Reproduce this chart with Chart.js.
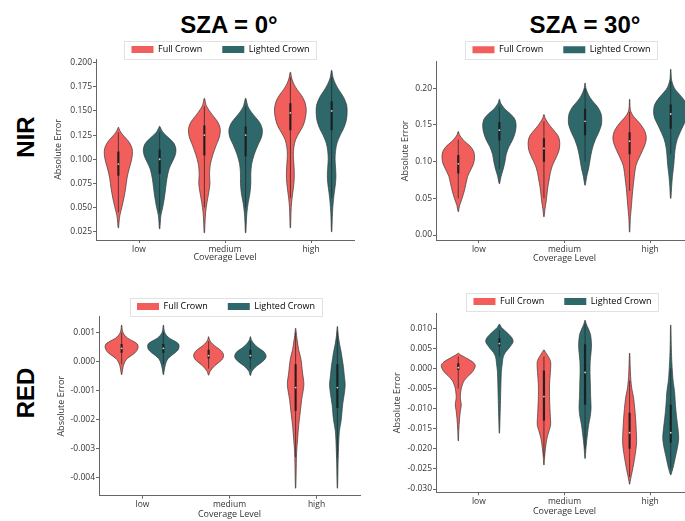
<!DOCTYPE html>
<html><head><meta charset="utf-8">
<script src="https://cdn.jsdelivr.net/npm/chart.js@4/dist/chart.umd.min.js"></script>
<style>
html,body{margin:0;padding:0;background:#fff;}
body{width:685px;height:521px;position:relative;overflow:hidden;}
.lab{position:absolute;font-family:'Liberation Sans',Arial,sans-serif;font-weight:bold;font-size:24px;color:#000;white-space:nowrap;line-height:1;transform:translate(-50%,-50%);}
.rot{transform:translate(-50%,-50%) rotate(-90deg);}
canvas{position:absolute;}
</style></head><body>
<div class="lab" style="left:229px;top:25px">SZA = 0°</div>
<div class="lab" style="left:585px;top:25px">SZA = 30°</div>
<div class="lab rot" style="left:26px;top:137px">NIR</div>
<div class="lab rot" style="left:26px;top:393px">RED</div>
<canvas id="c0"></canvas><canvas id="c1"></canvas><canvas id="c2"></canvas><canvas id="c3"></canvas>
<script>
// ---------- data ----------
const categories = ['low', 'medium', 'high'];
const seriesNames = ['Full Crown', 'Lighted Crown'];
const seriesColors = ['#f25e5b', '#2e686b'];

const nir0Ticks = [0.025, 0.050, 0.075, 0.100, 0.125, 0.150, 0.175, 0.200];
const nir30Ticks = [0.00, 0.05, 0.10, 0.15, 0.20];
const red0Ticks = [0.001, 0.000, -0.001, -0.002, -0.003, -0.004];
const red30Ticks = [0.010, 0.005, 0.000, -0.005, -0.010, -0.015, -0.020, -0.025, -0.030];

// violin density profiles: [value, half-width]
const nir0FullLow = [[0.029,0.003],[0.035,0.008],[0.042,0.018],[0.05,0.04],[0.06,0.065],[0.07,0.085],[0.08,0.1],[0.09,0.125],[0.098,0.15],[0.105,0.163],[0.111,0.16],[0.117,0.13],[0.122,0.085],[0.126,0.045],[0.13,0.015],[0.133,0.003]];
const nir0FullMed = [[0.024,0.003],[0.035,0.008],[0.045,0.015],[0.055,0.03],[0.065,0.05],[0.075,0.065],[0.085,0.06],[0.095,0.07],[0.105,0.1],[0.115,0.14],[0.123,0.175],[0.131,0.185],[0.138,0.16],[0.144,0.11],[0.15,0.06],[0.156,0.02],[0.163,0.003]];
const nir0FullHigh = [[0.029,0.003],[0.04,0.006],[0.05,0.01],[0.06,0.02],[0.07,0.035],[0.08,0.045],[0.088,0.045],[0.096,0.04],[0.104,0.035],[0.112,0.04],[0.12,0.06],[0.127,0.1],[0.135,0.15],[0.143,0.175],[0.151,0.185],[0.159,0.17],[0.166,0.13],[0.172,0.08],[0.178,0.04],[0.184,0.015],[0.19,0.003]];
const nir0LitLow = [[0.028,0.003],[0.035,0.008],[0.042,0.015],[0.05,0.035],[0.06,0.055],[0.07,0.07],[0.08,0.085],[0.09,0.11],[0.097,0.145],[0.104,0.18],[0.11,0.19],[0.116,0.17],[0.121,0.12],[0.125,0.07],[0.129,0.03],[0.134,0.003]];
const nir0LitMed = [[0.024,0.003],[0.035,0.008],[0.045,0.015],[0.055,0.03],[0.065,0.05],[0.075,0.06],[0.085,0.06],[0.095,0.07],[0.105,0.1],[0.115,0.145],[0.123,0.185],[0.13,0.195],[0.137,0.17],[0.143,0.12],[0.149,0.065],[0.155,0.025],[0.163,0.003]];
const nir0LitHigh = [[0.025,0.003],[0.035,0.006],[0.045,0.01],[0.055,0.018],[0.065,0.03],[0.075,0.045],[0.083,0.05],[0.092,0.045],[0.1,0.04],[0.108,0.045],[0.116,0.06],[0.124,0.095],[0.132,0.14],[0.14,0.17],[0.148,0.18],[0.156,0.175],[0.164,0.14],[0.171,0.09],[0.178,0.045],[0.185,0.015],[0.192,0.003]];

const nir30FullLow = [[0.032,0.003],[0.04,0.015],[0.05,0.045],[0.06,0.07],[0.07,0.09],[0.08,0.11],[0.09,0.15],[0.098,0.18],[0.106,0.19],[0.114,0.18],[0.121,0.14],[0.127,0.08],[0.133,0.035],[0.137,0.012],[0.141,0.003]];
const nir30FullMed = [[0.025,0.003],[0.035,0.012],[0.045,0.025],[0.055,0.035],[0.065,0.045],[0.075,0.06],[0.085,0.075],[0.095,0.1],[0.105,0.14],[0.115,0.175],[0.125,0.185],[0.134,0.17],[0.142,0.12],[0.149,0.07],[0.155,0.035],[0.16,0.012],[0.164,0.003]];
const nir30FullHigh = [[0.004,0.002],[0.015,0.006],[0.025,0.01],[0.035,0.018],[0.045,0.025],[0.055,0.032],[0.065,0.04],[0.075,0.05],[0.085,0.06],[0.095,0.075],[0.105,0.11],[0.115,0.15],[0.125,0.185],[0.133,0.195],[0.141,0.18],[0.149,0.14],[0.156,0.09],[0.162,0.045],[0.168,0.015],[0.175,0.005],[0.185,0.002]];
const nir30LitLow = [[0.07,0.003],[0.08,0.02],[0.09,0.045],[0.1,0.065],[0.11,0.08],[0.12,0.11],[0.13,0.155],[0.14,0.185],[0.15,0.195],[0.158,0.18],[0.165,0.13],[0.171,0.07],[0.177,0.03],[0.181,0.01],[0.185,0.003]];
const nir30LitMed = [[0.068,0.003],[0.08,0.02],[0.09,0.04],[0.1,0.055],[0.11,0.07],[0.12,0.09],[0.13,0.12],[0.14,0.16],[0.15,0.19],[0.158,0.195],[0.166,0.185],[0.174,0.15],[0.181,0.1],[0.188,0.055],[0.195,0.025],[0.201,0.008],[0.207,0.002]];
const nir30LitHigh = [[0.05,0.003],[0.065,0.01],[0.08,0.02],[0.095,0.035],[0.11,0.045],[0.12,0.055],[0.13,0.075],[0.14,0.11],[0.15,0.15],[0.16,0.19],[0.168,0.2],[0.177,0.19],[0.185,0.15],[0.192,0.1],[0.198,0.055],[0.205,0.025],[0.213,0.008],[0.226,0.002]];

const red0FullLow = [[-0.00045,0.003],[-0.0003,0.01],[-0.00015,0.02],[0.0,0.04],[0.0001,0.065],[0.0002,0.11],[0.0003,0.155],[0.0004,0.18],[0.0005,0.19],[0.0006,0.18],[0.0007,0.13],[0.0008,0.07],[0.0009,0.035],[0.001,0.015],[0.0011,0.007],[0.00125,0.002]];
const red0FullMed = [[-0.00047,0.003],[-0.00035,0.015],[-0.00025,0.04],[-0.00015,0.07],[-0.00005,0.11],[0.00005,0.15],[0.00015,0.17],[0.00025,0.17],[0.00035,0.15],[0.00045,0.11],[0.00055,0.065],[0.00065,0.03],[0.00075,0.01],[0.00085,0.002]];
const red0FullHigh = [[-0.00436,0.002],[-0.004,0.005],[-0.0035,0.008],[-0.0031,0.012],[-0.0027,0.022],[-0.0022,0.035],[-0.0017,0.055],[-0.0013,0.07],[-0.0008,0.095],[-0.0004,0.08],[0.0001,0.06],[0.0004,0.035],[0.0007,0.02],[0.0009,0.01],[0.00114,0.002]];
const red0LitLow = [[-0.00045,0.003],[-0.0003,0.01],[-0.00015,0.02],[0.0,0.035],[0.0001,0.055],[0.0002,0.09],[0.0003,0.135],[0.0004,0.17],[0.0005,0.18],[0.0006,0.175],[0.0007,0.13],[0.0008,0.07],[0.0009,0.035],[0.001,0.015],[0.0011,0.007],[0.00125,0.002]];
const red0LitMed = [[-0.00048,0.003],[-0.00035,0.015],[-0.00025,0.04],[-0.00015,0.075],[-0.00005,0.12],[0.00005,0.16],[0.00015,0.18],[0.00025,0.175],[0.00035,0.15],[0.00045,0.1],[0.00055,0.06],[0.00065,0.03],[0.00075,0.01],[0.00085,0.002]];
const red0LitHigh = [[-0.00436,0.002],[-0.004,0.005],[-0.0035,0.008],[-0.003,0.013],[-0.0024,0.023],[-0.002,0.045],[-0.0015,0.06],[-0.0011,0.08],[-0.0008,0.09],[-0.0005,0.08],[-0.0002,0.07],[0.0001,0.055],[0.0003,0.045],[0.0006,0.025],[0.0009,0.01],[0.0012,0.002]];

const red30FullLow = [[-0.018,0.002],[-0.0155,0.006],[-0.0125,0.015],[-0.0105,0.025],[-0.0091,0.035],[-0.0075,0.025],[-0.0066,0.025],[-0.005,0.035],[-0.0041,0.047],[-0.003,0.07],[-0.002,0.11],[-0.001,0.16],[0.0,0.19],[0.0008,0.198],[0.0016,0.17],[0.0024,0.11],[0.003,0.06],[0.0034,0.025],[0.0038,0.003]];
const red30FullMed = [[-0.024,0.002],[-0.022,0.008],[-0.0199,0.018],[-0.0174,0.035],[-0.0155,0.06],[-0.0141,0.078],[-0.012,0.075],[-0.0099,0.07],[-0.007,0.065],[-0.0041,0.065],[-0.001,0.075],[0.0017,0.078],[0.003,0.05],[0.004,0.02],[0.0046,0.003]];
const red30FullHigh = [[-0.0288,0.002],[-0.0275,0.012],[-0.0257,0.03],[-0.024,0.045],[-0.0224,0.058],[-0.02,0.075],[-0.0182,0.082],[-0.0155,0.078],[-0.0124,0.07],[-0.01,0.06],[-0.0074,0.047],[-0.0055,0.03],[-0.0041,0.02],[-0.002,0.012],[0.001,0.006],[0.0038,0.002]];
const red30LitLow = [[-0.0161,0.002],[-0.012,0.008],[-0.008,0.013],[-0.004,0.018],[-0.0008,0.023],[0.0015,0.035],[0.0029,0.045],[0.004,0.07],[0.005,0.11],[0.006,0.145],[0.0067,0.16],[0.0075,0.15],[0.0085,0.11],[0.0095,0.06],[0.0102,0.025],[0.011,0.003]];
const red30LitMed = [[-0.0224,0.002],[-0.02,0.01],[-0.0182,0.018],[-0.016,0.03],[-0.014,0.042],[-0.012,0.06],[-0.0099,0.07],[-0.007,0.065],[-0.0041,0.062],[-0.001,0.058],[0.0017,0.06],[0.004,0.07],[0.0058,0.075],[0.0083,0.065],[0.0098,0.04],[0.011,0.015],[0.012,0.002]];
const red30LitHigh = [[-0.0265,0.002],[-0.0249,0.025],[-0.023,0.045],[-0.0215,0.06],[-0.0195,0.08],[-0.0174,0.093],[-0.015,0.085],[-0.0124,0.07],[-0.009,0.055],[-0.0058,0.045],[-0.0035,0.03],[-0.0016,0.022],[0.002,0.012],[0.006,0.006],[0.0108,0.002]];

// inner box stats per category: [whisker low, q1, median, q3, whisker high]
const nir0FullBox = [[0.045,0.083,0.095,0.108,0.128],[0.05,0.104,0.125,0.135,0.155],[0.06,0.13,0.148,0.158,0.185]];
const nir0LitBox = [[0.045,0.085,0.1,0.11,0.128],[0.05,0.103,0.125,0.134,0.155],[0.06,0.13,0.15,0.16,0.185]];
const nir30FullBox = [[0.05,0.084,0.097,0.109,0.13],[0.05,0.1,0.118,0.132,0.155],[0.06,0.11,0.128,0.14,0.168]];
const nir30LitBox = [[0.09,0.129,0.143,0.154,0.175],[0.1,0.136,0.155,0.172,0.2],[0.11,0.145,0.165,0.178,0.21]];
const red0FullBox = [[-0.0001,0.0003,0.00045,0.0006,0.001],[-0.00025,0.0001,0.0002,0.0004,0.0007],[-0.0033,-0.0017,-0.0009,-0.0001,0.001]];
const red0LitBox = [[-0.0001,0.0003,0.00045,0.0006,0.001],[-0.00025,0.0001,0.0002,0.0004,0.0007],[-0.0033,-0.0016,-0.0009,-0.0001,0.001]];
const red30FullBox = [[-0.005,-0.0004,0.0002,0.0013,0.003],[-0.022,-0.013,-0.007,-0.0005,0.003],[-0.027,-0.02,-0.016,-0.011,-0.003]];
const red30LitBox = [[0.003,0.0055,0.0062,0.0075,0.0095],[-0.02,-0.009,-0.001,0.006,0.011],[-0.025,-0.0185,-0.016,-0.009,0.0]];

// ---------- layout (page pixels) ----------
const panels = [
  {id:'c0', canvas:{l:51,t:10,r:380,b:263}, area:{l:96,r:354,t:59,b:240}, yMin:0.0164, yMax:0.2038, ticks:nir0Ticks, dec:3,
   legend:{x:220.5,y:49.5}, profiles:[[nir0FullLow,nir0FullMed,nir0FullHigh],[nir0LitLow,nir0LitMed,nir0LitHigh]], boxes:[nir0FullBox,nir0LitBox]},
  {id:'c1', canvas:{l:398,t:10,r:700,b:264}, area:{l:436,r:693,t:61.7,b:240}, yMin:-0.0068, yMax:0.2363, ticks:nir30Ticks, dec:2,
   legend:{x:561.5,y:49.7}, profiles:[[nir30FullLow,nir30FullMed,nir30FullHigh],[nir30LitLow,nir30LitMed,nir30LitHigh]], boxes:[nir30FullBox,nir30LitBox]},
  {id:'c2', canvas:{l:54,t:266,r:380,b:520}, area:{l:99,r:360,t:316.7,b:495.7}, yMin:-0.00462, yMax:0.00154, ticks:red0Ticks, dec:3,
   legend:{x:226,y:306.5}, profiles:[[red0FullLow,red0FullMed,red0FullHigh],[red0LitLow,red0LitMed,red0LitHigh]], boxes:[red0FullBox,red0LitBox]},
  {id:'c3', canvas:{l:390,t:266,r:700,b:517}, area:{l:436,r:693,t:313.3,b:492.3}, yMin:-0.03082, yMax:0.01373, ticks:red30Ticks, dec:3,
   legend:{x:562.5,y:301.5}, profiles:[[red30FullLow,red30FullMed,red30FullHigh],[red30LitLow,red30LitMed,red30LitHigh]], boxes:[red30FullBox,red30LitBox]}
];
const DODGE = [-0.24, 0.24];
const LEG_FONT = 9, LEG_PAD = 20;
const TXT = '#333';
const tickFont = {family:"'Open Sans', sans-serif", size:8.5};
const titleFont = {family:"'Open Sans', sans-serif", size:9};

function outline(profile, c) {
  const right = profile.map(p => ({x: c + p[1], y: p[0]}));
  const left = profile.slice().reverse().map(p => ({x: c - p[1], y: p[0]}));
  return right.concat(left, [right[0]]);
}

const legendPlacer = {
  id: 'legendPlacer',
  afterLayout(chart, args, opts) {
    const lg = chart.legend; if (!lg) return;
    const dx = opts.x - ((lg.left + lg.right) / 2);
    const dy = opts.y - (lg.top + LEG_PAD + LEG_FONT / 2);
    lg.left += dx; lg.right += dx; lg.top += dy; lg.bottom += dy;
  },
  afterDraw(chart) {
    const lg = chart.legend; if (!lg || !lg.legendHitBoxes.length) return;
    const hb = lg.legendHitBoxes, a = hb[0], z = hb[hb.length - 1];
    const cy = a.top + a.height / 2;
    const ctx = chart.ctx;
    ctx.save();
    ctx.strokeStyle = '#e2e2e2'; ctx.lineWidth = 1;
    ctx.strokeRect(Math.round(a.left - 7) + 0.5, Math.round(cy - 9) + 0.5, Math.round(z.left + z.width - a.left + 14), 18);
    ctx.restore();
  }
};

panels.forEach(P => {
  const cv = document.getElementById(P.id);
  const W = P.canvas.r - P.canvas.l, H = P.canvas.b - P.canvas.t;
  cv.width = W; cv.height = H;
  cv.style.left = P.canvas.l + 'px'; cv.style.top = P.canvas.t + 'px';
  cv.style.width = W + 'px'; cv.style.height = H + 'px';
  const legendH = LEG_FONT + LEG_PAD + 10;
  const padTop = P.area.t - P.canvas.t - legendH;
  const datasets = [];
  for (let s = 0; s < 2; s++) {
    for (let c = 0; c < categories.length; c++) {
      const cx = c + DODGE[s];
      datasets.push({label: seriesNames[s], data: outline(P.profiles[s][c], cx), showLine: true, fill: 'shape',
        backgroundColor: seriesColors[s], borderColor: '#3a3a3a', borderWidth: 0.7, pointRadius: 0, tension: 0.3, order: 5});
      const b = P.boxes[s][c];
      datasets.push({label: '', data: [{x: cx, y: b[0]}, {x: cx, y: b[4]}], showLine: true, borderColor: 'rgba(40,40,40,0.85)', borderWidth: 0.9, pointRadius: 0, order: 2});
      datasets.push({label: '', data: [{x: cx, y: b[1]}, {x: cx, y: b[3]}], showLine: true, borderColor: 'rgba(25,25,25,0.85)', borderWidth: 2.2, borderCapStyle: 'butt', pointRadius: 0, order: 1});
      datasets.push({label: '', data: [{x: cx, y: b[2]}], showLine: false, pointRadius: 0.9, pointBackgroundColor: 'rgba(255,255,255,0.8)', pointBorderWidth: 0, order: 0});
    }
  }
  new Chart(cv, {
    type: 'scatter',
    data: {datasets},
    options: {
      responsive: false, animation: false, devicePixelRatio: 1,
      layout: {autoPadding: false, padding: {left: 0, right: P.canvas.r - P.area.r, top: padTop, bottom: 0}},
      plugins: {
        tooltip: {enabled: false},
        legend: {
          display: true, position: 'top',
          labels: {
            boxWidth: 22, boxHeight: 7, padding: LEG_PAD, color: TXT,
            font: {family: "'Open Sans', sans-serif", size: LEG_FONT},
            generateLabels: () => seriesNames.map((n, i) => ({text: n, fillStyle: seriesColors[i], strokeStyle: seriesColors[i], lineWidth: 0, hidden: false, datasetIndex: i * 12}))
          }
        },
        legendPlacer: {x: P.legend.x - P.canvas.l, y: P.legend.y - P.canvas.t}
      },
      scales: {
        x: {
          type: 'linear', min: -0.5, max: 2.5,
          afterBuildTicks: s => { s.ticks = categories.map((_, i) => ({value: i})); },
          afterFit: s => { s.height = P.canvas.b - P.area.b; },
          ticks: {callback: v => categories[v], color: TXT, font: tickFont, padding: 1, maxRotation: 0, autoSkip: false},
          grid: {display: true, drawOnChartArea: false, drawTicks: true, tickLength: 3, color: '#666'},
          border: {display: true, color: '#666', width: 1},
          title: {display: true, text: 'Coverage Level', color: TXT, font: titleFont, padding: {top: 0, bottom: 0}}
        },
        y: {
          type: 'linear', min: P.yMin, max: P.yMax,
          afterBuildTicks: s => { s.ticks = P.ticks.map(v => ({value: v})); },
          afterFit: s => { s.width = P.area.l - P.canvas.l; },
          ticks: {callback: v => v.toFixed(P.dec), color: TXT, font: tickFont, padding: 1},
          grid: {display: true, drawOnChartArea: false, drawTicks: true, tickLength: 3, color: '#666'},
          border: {display: true, color: '#666', width: 1},
          title: {display: true, text: 'Absolute Error', color: TXT, font: titleFont, padding: {top: 2, bottom: 0}}
        }
      }
    },
    plugins: [legendPlacer]
  });
});
</script>
</body></html>
